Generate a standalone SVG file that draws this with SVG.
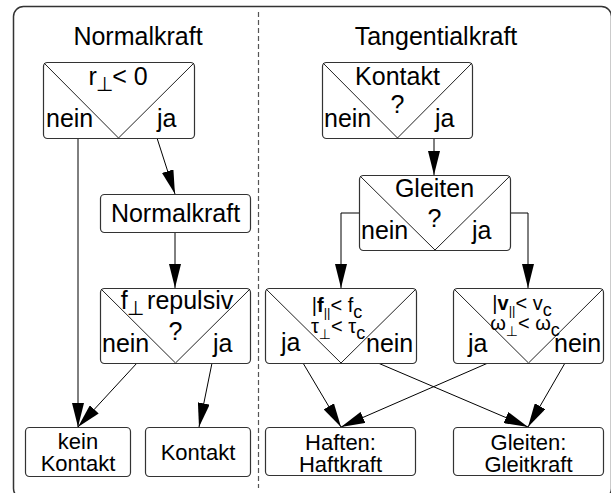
<svg xmlns="http://www.w3.org/2000/svg" width="611" height="493" viewBox="0 0 611 493">
<defs>
<style>
.t{font-family:"Liberation Sans",Arial,sans-serif;font-size:25px;fill:#000}
.s{font-family:"Liberation Sans",Arial,sans-serif;font-size:22px;fill:#000}
.f{font-family:"Liberation Sans","DejaVu Sans",Arial,sans-serif;font-size:20px;fill:#000}
.box{fill:#fff;stroke:#333;stroke-width:1.2}
.diag{fill:none;stroke:#222;stroke-width:1}
.con{fill:none;stroke:#000;stroke-width:1}
.arr{marker-end:url(#ah)}
</style>
<marker id="ah" markerUnits="userSpaceOnUse" markerWidth="24" markerHeight="12" refX="24" refY="6" orient="auto">
<path d="M0,0 L24,6 L0,12 z" fill="#000"/>
</marker>
</defs>
<rect x="0" y="0" width="611" height="493" fill="#fff"/>
<rect x="13.5" y="6.5" width="598" height="492" rx="10" fill="none" stroke="#333" stroke-width="1.5"/>
<line x1="258.5" y1="12" x2="258.5" y2="488" stroke="#555" stroke-width="1.2" stroke-dasharray="5,3"/>
<text class="t" x="138" y="45" text-anchor="middle">Normalkraft</text>
<text class="t" x="436" y="45" text-anchor="middle">Tangentialkraft</text>

<g id="connectors">
<line class="con arr" x1="157" y1="138" x2="175" y2="194"/>
<line class="con arr" x1="78" y1="138" x2="78" y2="427"/>
<line class="con arr" x1="175" y1="232" x2="175" y2="288"/>
<line class="con arr" x1="137" y1="363" x2="78" y2="427"/>
<line class="con arr" x1="212" y1="363" x2="199" y2="427"/>
<line class="con arr" x1="434" y1="138" x2="434" y2="175"/>
<polyline class="con arr" points="359,213 341,213 341,288"/>
<polyline class="con arr" points="510,213 528,213 528,288"/>
<line class="con arr" x1="303" y1="363" x2="341" y2="427"/>
<line class="con arr" x1="378" y1="363" x2="528" y2="427"/>
<line class="con arr" x1="488" y1="363" x2="341" y2="427"/>
<line class="con arr" x1="565" y1="363" x2="528" y2="427"/>
</g>

<g id="n-rperp">
<rect class="box" x="43.5" y="62.5" width="151" height="76" rx="4"/>
<polyline class="diag" points="44,63 118.5,138 194,63"/>
<text class="t" x="118" y="85" text-anchor="middle">r<tspan class="f" font-size="15" dx="-1" dy="6">⊥</tspan><tspan dx="-1" dy="-6">&lt; 0</tspan></text>
<text class="t" x="46" y="127">nein</text>
<text class="t" x="157" y="127">ja</text>
</g>

<g id="n-normalkraft">
<rect class="box" x="100.5" y="194.5" width="150" height="38" rx="4"/>
<text class="t" x="175.5" y="222" text-anchor="middle">Normalkraft</text>
</g>

<g id="n-repulsiv">
<rect class="box" x="100.5" y="288.5" width="150" height="75" rx="4"/>
<polyline class="diag" points="101,289 175.5,363 250,289"/>
<text class="t" x="177" y="309" text-anchor="middle">f<tspan class="f" font-size="15" dx="-1" dy="6">⊥</tspan><tspan dx="-4" dy="-6"> repulsiv</tspan></text>
<text class="t" x="175.5" y="340" text-anchor="middle">?</text>
<text class="t" x="102" y="352">nein</text>
<text class="t" x="213" y="352">ja</text>
</g>

<g id="n-keinkontakt">
<rect class="box" x="25.5" y="427.5" width="105" height="49" rx="4"/>
<text class="s" x="78" y="449" text-anchor="middle">kein</text>
<text class="s" x="78" y="471" text-anchor="middle">Kontakt</text>
</g>

<g id="n-kontakt">
<rect class="box" x="145.5" y="427.5" width="105" height="49" rx="4"/>
<text class="s" x="198" y="460" text-anchor="middle">Kontakt</text>
</g>

<g id="n-kontaktq">
<rect class="box" x="322.5" y="62.5" width="150" height="76" rx="4"/>
<polyline class="diag" points="323,63 397.5,138 472,63"/>
<text class="t" x="397.5" y="85" text-anchor="middle">Kontakt</text>
<text class="t" x="397.5" y="113" text-anchor="middle">?</text>
<text class="t" x="324" y="127">nein</text>
<text class="t" x="435" y="127">ja</text>
</g>

<g id="n-gleitenq">
<rect class="box" x="359.5" y="175.5" width="151" height="75" rx="4"/>
<polyline class="diag" points="360,176 435,250 510,176"/>
<text class="t" x="434.5" y="197" text-anchor="middle">Gleiten</text>
<text class="t" x="434.5" y="227" text-anchor="middle">?</text>
<text class="t" x="361" y="239">nein</text>
<text class="t" x="472" y="239">ja</text>
</g>

<g id="n-haftcheck">
<rect class="box" x="265.5" y="288.5" width="151" height="75" rx="4"/>
<polyline class="diag" points="266,289 341,363 416,289"/>
<text class="f" x="337" y="312" text-anchor="middle">|<tspan font-weight="bold">f</tspan><tspan font-size="13" dy="5">||</tspan><tspan dy="-5">&lt; f</tspan><tspan font-size="18" dy="6">c</tspan></text>
<text class="f" x="338" y="333" text-anchor="middle">τ<tspan font-size="14" dy="6">⊥</tspan><tspan dy="-6">&lt; τ</tspan><tspan font-size="18" dy="6">c</tspan></text>
<text class="t" x="281" y="351">ja</text>
<text class="t" x="366" y="352">nein</text>
</g>

<g id="n-gleitcheck">
<rect class="box" x="453.5" y="288.5" width="150" height="75" rx="4"/>
<polyline class="diag" points="454,289 528.5,363 603,289"/>
<text class="f" x="522" y="310" text-anchor="middle">|<tspan font-weight="bold">v</tspan><tspan font-size="13" dy="5">||</tspan><tspan dy="-5">&lt; v</tspan><tspan font-size="18" dy="6">c</tspan></text>
<text class="f" x="525" y="330" text-anchor="middle">ω<tspan font-size="14" dy="6">⊥</tspan><tspan dy="-6">&lt; ω</tspan><tspan font-size="18" dy="6">c</tspan></text>
<text class="t" x="468" y="352">ja</text>
<text class="t" x="554" y="352">nein</text>
</g>

<g id="n-haften">
<rect class="box" x="265.5" y="427.5" width="150" height="48" rx="4"/>
<text class="s" x="340.5" y="450" text-anchor="middle">Haften:</text>
<text class="s" x="340.5" y="472" text-anchor="middle">Haftkraft</text>
</g>

<g id="n-gleiten">
<rect class="box" x="453.5" y="427.5" width="150" height="48" rx="4"/>
<text class="s" x="528.5" y="450" text-anchor="middle">Gleiten:</text>
<text class="s" x="528.5" y="472" text-anchor="middle">Gleitkraft</text>
</g>
</svg>
